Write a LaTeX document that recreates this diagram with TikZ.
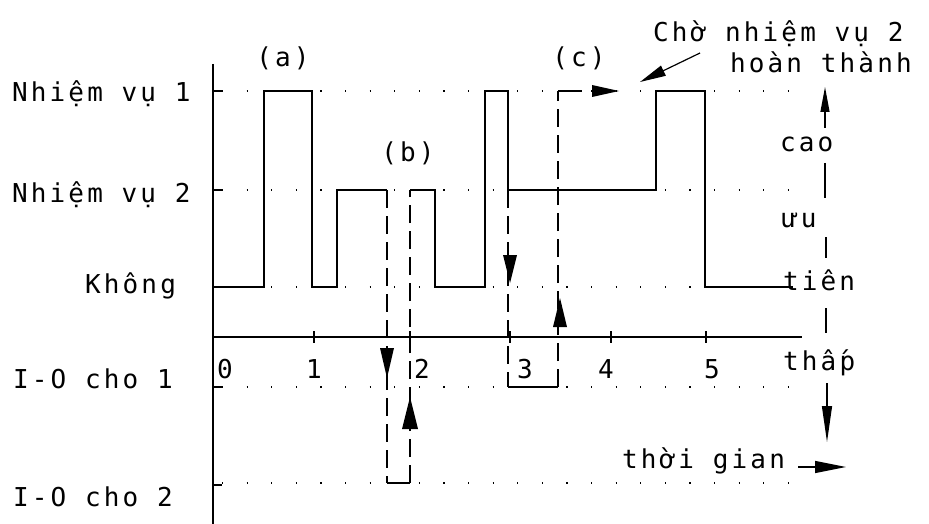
\documentclass[tikz,border=0pt]{standalone}
\usepackage{fontspec}
\newfontfamily\plotfont[LetterSpace=12]{DejaVu Sans Mono}
\usetikzlibrary{arrows.meta}
\begin{document}
\begin{tikzpicture}[x=1pt,y=-1pt,
  txt/.style={font=\plotfont\fontsize{26}{30}\selectfont, inner sep=0pt},
  trace/.style={line width=1.3pt, line join=miter},
  axisline/.style={line width=1.2pt},
  dashline/.style={line width=1.3pt, dash pattern=on 18pt off 8pt},
  dotline/.style={line width=1.2pt, dash pattern=on 1.2pt off 23.4pt},
  thinline/.style={line width=1.2pt}]
\useasboundingbox (0,0) rectangle (929,524);
% coordinates
\coordinate (o) at (213,337);
\coordinate (ytop) at (213,64);
\coordinate (ybot) at (213,524);
\coordinate (xend) at (802,337);
% dotted grid
\foreach \yy in {91,190,287,387,483}
  \draw[dotline] (222,\yy) -- (806,\yy);
% axes
\draw[axisline] (ytop) -- (ybot);
\draw[axisline] (o) -- (xend);
\foreach \xx in {314,410,510,611,706}
  \draw[thinline] (\xx,331) -- (\xx,343);
\foreach \yy in {91,190,387,485}
  \draw[thinline] (213,\yy) -- (222,\yy);
% solid trace
\draw[trace] (213,287) -- (264,287) -- (264,91) -- (312,91) -- (312,287) -- (337,287)
  -- (337,190) -- (387,190);
\draw[trace] (410,190) -- (435,190) -- (435,287) -- (485,287) -- (485,91) -- (508,91)
  -- (508,190) -- (656,190) -- (656,91) -- (705,91) -- (705,287) -- (793,287);
\draw[trace] (508,387) -- (558,387);
% dashed transfers
\draw[dashline] (387,190) -- (387,483);
\draw[trace] (387,483) -- (410,483);
\draw[dashline] (410,483) -- (410,190);
\draw[dashline] (508,190) -- (508,387);
\draw[dashline] (558,387) -- (558,91);
\draw[trace] (558,91) -- (582,91);
% arrowheads
\fill (380,348) -- (394,348) -- (387,378) -- cycle;
\fill (402,429) -- (418,429) -- (410,397) -- cycle;
\fill (503,255) -- (517,255) -- (510,283) -- cycle;
\fill (553,327) -- (567,327) -- (560,298) -- cycle;
\fill (592,85) -- (592,97) -- (619,91) -- cycle;
% left labels
\node[txt, anchor=base west] (t1) at (12,102) {Nhiệm vụ 1};
\node[txt, anchor=base west] (t2) at (12,202) {Nhiệm vụ 2};
\node[txt, anchor=base west] (t0) at (85,293) {Không};
\node[txt, anchor=base west] (io1) at (13,388) {I-O cho 1};
\node[txt, anchor=base west] (io2) at (13,506) {I-O cho 2};
% tick labels
\node[txt, anchor=base] (n0) at (225,378) {0};
\node[txt, anchor=base] (n1) at (314,378) {1};
\node[txt, anchor=base] (n2) at (422,378) {2};
\node[txt, anchor=base] (n3) at (525,378) {3};
\node[txt, anchor=base] (n4) at (606,378) {4};
\node[txt, anchor=base] (n5) at (712,378) {5};
% case labels
\node[txt] (la) at (283,58) {(a)};
\node[txt] (lb) at (408,153) {(b)};
\node[txt] (lc) at (579,58) {(c)};
% wait label
\node[txt, anchor=base west] (w1) at (653,42) {Chờ nhiệm vụ 2};
\node[txt, anchor=base west] (w2) at (730,73) {hoàn thành};
\coordinate (wtip) at (640,82);
\draw[thinline, -{Triangle[length=26pt,width=11pt]}] (700,53) -- (wtip);
% priority axis
\coordinate (ptop) at (825,87);
\coordinate (pbot) at (827,442);
\node[txt, anchor=base west] (cao) at (780,152) {cao};
\node[txt, anchor=base west] (uu) at (782,227) {ưu};
\node[txt, anchor=base west] (tien) at (783,290) {tiên};
\node[txt, anchor=base west] (thap) at (783,370) {thâ^^^^0301p};
\draw[thinline, -{Triangle[length=25pt,width=9pt]}] (825,128) -- (ptop);
\draw[thinline] (825,163) -- (825,198);
\draw[thinline] (826,237) -- (826,258);
\draw[thinline] (826,308) -- (826,333);
\draw[thinline, -{Triangle[length=36pt,width=10pt]}] (827,383) -- (pbot);
% time label
\node[txt, anchor=base west] (tg) at (622,468) {thời gian};
\coordinate (tgend) at (846,467);
\draw[thinline, -{Triangle[length=31pt,width=12pt]}] (798,467) -- (tgend);
\end{tikzpicture}
\end{document}
